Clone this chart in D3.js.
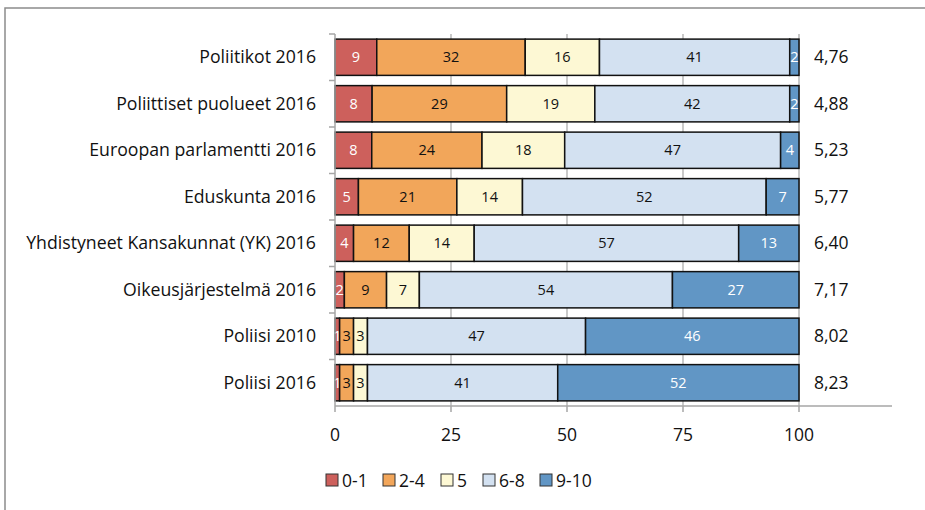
<!DOCTYPE html>
<html>
<head>
<meta charset="utf-8">
<script src="https://cdn.jsdelivr.net/npm/d3@7"></script>
<style>
  body { margin: 0; background: #fff; }
  svg text { font-family: "Open Sans", "Liberation Sans", sans-serif; }
</style>
</head>
<body>
<svg id="chart" width="925" height="510"></svg>
<script>
// categories, top to bottom
const categories = [
    "Poliitikot 2016",
    "Poliittiset puolueet 2016",
    "Euroopan parlamentti 2016",
    "Eduskunta 2016",
    "Yhdistyneet Kansakunnat (YK) 2016",
    "Oikeusjärjestelmä 2016",
    "Poliisi 2010",
    "Poliisi 2016"
];
const seriesNames = ["0-1", "2-4", "5", "6-8", "9-10"];
// share of answers (%) per category, one array per series
const s01 = [9, 8, 8, 5, 4, 2, 1, 1];
const s24 = [32, 29, 24, 21, 12, 9, 3, 3];
const s5 = [16, 19, 18, 14, 14, 7, 3, 3];
const s68 = [41, 42, 47, 52, 57, 54, 47, 41];
const s910 = [2, 2, 4, 7, 13, 27, 46, 52];
const means = ["4,76", "4,88", "5,23", "5,77", "6,40", "7,17", "8,02", "8,23"];
const xTicks = [0, 25, 50, 75, 100];

const colors = ["#cd605c", "#f2a65a", "#fdf8d4", "#d3e1f1", "#6196c5"];
const labelColors = ["#fff", "#111", "#111", "#111", "#fff"];

const rows = categories.map((c, i) => ({
    cat: c,
    "0-1": s01[i], "2-4": s24[i], "5": s5[i], "6-8": s68[i], "9-10": s910[i]
}));

const svg = d3.select("#chart");

// outer chart border
svg.append("rect")
    .attr("x", 5).attr("y", 8)
    .attr("width", 940).attr("height", 520)
    .attr("fill", "none")
    .attr("stroke", "#8c8c8c")
    .attr("stroke-width", 1.5);

const plotLeft = 335, plotTop = 34, plotBottom = 406;
const x = d3.scaleLinear().domain([0, 100]).range([plotLeft, 799]);
const y = d3.scaleBand().domain(categories).range([plotTop, plotBottom]).paddingInner(0.22).paddingOuter(0.11);
const yLine = d3.scaleBand().domain(categories).range([plotTop, plotBottom]);

// gridlines
svg.selectAll(".grid")
    .data(xTicks.slice(1))
    .enter().append("line")
    .attr("x1", d => x(d)).attr("x2", d => x(d))
    .attr("y1", plotTop).attr("y2", plotBottom)
    .attr("stroke", "#a6a6a6")
    .attr("stroke-width", 1.2);

// stack normalised to 100 %
const stack = d3.stack().keys(seriesNames).offset(d3.stackOffsetExpand);
const layers = stack(rows);

const g = svg.selectAll(".layer")
    .data(layers)
    .enter().append("g")
    .attr("fill", (d, i) => colors[i]);

g.selectAll("rect")
    .data(d => d)
    .enter().append("rect")
    .attr("x", d => x(d[0] * 100))
    .attr("y", d => y(d.data.cat))
    .attr("width", d => x(d[1] * 100) - x(d[0] * 100))
    .attr("height", y.bandwidth())
    .attr("stroke", "#111")
    .attr("stroke-width", 1.5);

// segment labels
layers.forEach((layer, li) => {
    svg.selectAll(".lab" + li)
        .data(layer)
        .enter().append("text")
        .attr("x", d => (x(d[0] * 100) + x(d[1] * 100)) / 2)
        .attr("y", d => y(d.data.cat) + y.bandwidth() / 2)
        .attr("dy", "0.35em")
        .attr("text-anchor", "middle")
        .attr("font-size", "14.5px")
        .attr("fill", labelColors[li])
        .text(d => d.data[layer.key]);
});

// mean values
svg.selectAll(".mean")
    .data(means)
    .enter().append("text")
    .attr("x", 814)
    .attr("y", (d, i) => y(categories[i]) + y.bandwidth() / 2)
    .attr("dy", "0.35em")
    .attr("font-size", "17.5px")
    .attr("fill", "#111")
    .text(d => d);

// category axis
svg.append("line")
    .attr("x1", plotLeft).attr("x2", plotLeft)
    .attr("y1", plotTop).attr("y2", plotBottom)
    .attr("stroke", "#a6a6a6").attr("stroke-width", 1.5);
svg.selectAll(".ytick")
    .data(categories)
    .enter().append("line")
    .attr("x1", plotLeft - 6).attr("x2", plotLeft)
    .attr("y1", d => yLine(d)).attr("y2", d => yLine(d))
    .attr("stroke", "#a6a6a6").attr("stroke-width", 1.5);
svg.selectAll(".ylab")
    .data(categories)
    .enter().append("text")
    .attr("x", 316)
    .attr("y", d => y(d) + y.bandwidth() / 2)
    .attr("dy", "0.35em")
    .attr("text-anchor", "end")
    .attr("font-size", "17.7px")
    .attr("fill", "#111")
    .text(d => d);

// value axis
svg.append("line")
    .attr("x1", plotLeft).attr("x2", 892)
    .attr("y1", plotBottom).attr("y2", plotBottom)
    .attr("stroke", "#a6a6a6").attr("stroke-width", 1.5);
svg.selectAll(".xtick")
    .data(xTicks)
    .enter().append("line")
    .attr("x1", d => x(d)).attr("x2", d => x(d))
    .attr("y1", plotBottom).attr("y2", plotBottom + 6)
    .attr("stroke", "#a6a6a6").attr("stroke-width", 1.5);
svg.selectAll(".xlab")
    .data(xTicks)
    .enter().append("text")
    .attr("x", d => x(d))
    .attr("y", 441)
    .attr("text-anchor", "middle")
    .attr("font-size", "17.5px")
    .attr("fill", "#111")
    .text(d => d);

// legend
const legendX = [326, 383, 441, 483, 540];
const legend = svg.selectAll(".leg")
    .data(seriesNames)
    .enter().append("g")
    .attr("transform", (d, i) => `translate(${legendX[i]},474)`);
legend.append("rect")
    .attr("width", 12).attr("height", 12)
    .attr("fill", (d, i) => colors[i])
    .attr("stroke", "#333").attr("stroke-width", 1);
legend.append("text")
    .attr("x", 16).attr("y", 7)
    .attr("dy", "0.35em")
    .attr("font-size", "17.5px")
    .attr("fill", "#111")
    .text(d => d);
</script>
</body>
</html>
